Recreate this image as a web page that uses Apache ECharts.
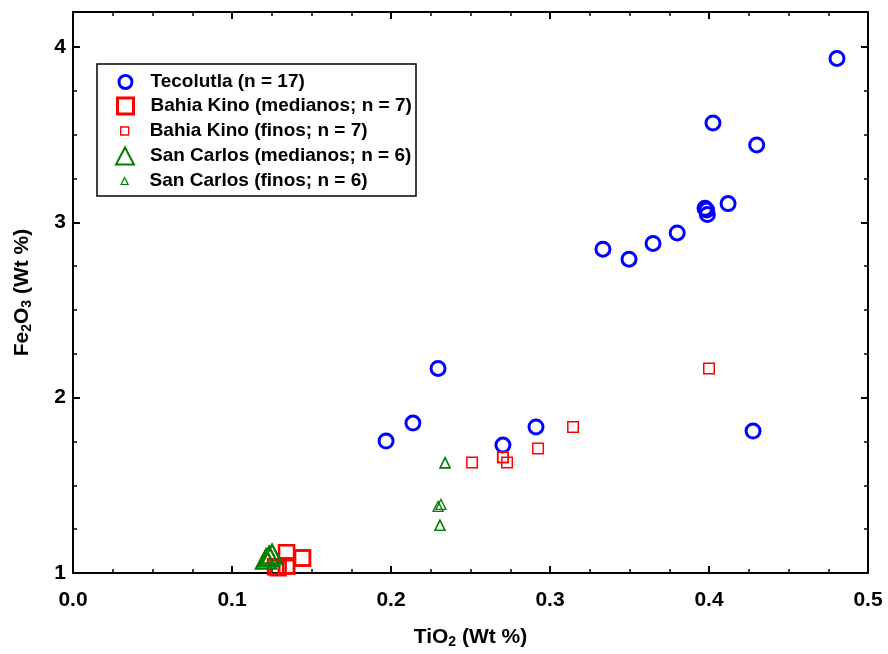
<!DOCTYPE html>
<html><head><meta charset="utf-8">
<script src="https://cdn.jsdelivr.net/npm/echarts@6/dist/echarts.min.js"></script>
<style>html,body{margin:0;padding:0;background:#fff}#c{width:888px;height:654px}</style>
</head><body><div id="c"></div>
<script>
const tecolutlaX = [0.4805, 0.4025, 0.430, 0.412, 0.3975, 0.399, 0.3985, 0.380, 0.3648, 0.3333, 0.3497, 0.2296, 0.2138, 0.1969, 0.2912, 0.2704, 0.4277];
const tecolutlaY = [3.935, 3.567, 3.442, 3.107, 3.08, 3.045, 3.07, 2.94, 2.88, 2.847, 2.79, 2.167, 1.855, 1.753, 1.833, 1.73, 1.81];
const bkMedX = [0.1343, 0.1443, 0.1343, 0.1274, 0.1343, 0.1290, 0.1443];
const bkMedY = [1.116, 1.085, 1.04, 1.035, 1.04, 1.03, 1.085];
const bkFinX = [0.400, 0.3145, 0.2925, 0.2704, 0.273, 0.251, 0.2704];
const bkFinY = [2.167, 1.833, 1.71, 1.66, 1.63, 1.63, 1.66];
const scMedX = [0.1214, 0.1233, 0.1252, 0.1214, 0.1233, 0.1252];
const scMedY = [1.08, 1.096, 1.108, 1.08, 1.096, 1.108];
const scFinX = [0.234, 0.2314, 0.2296, 0.2308, 0.2308, 0.234];
const scFinY = [1.629, 1.391, 1.380, 1.272, 1.272, 1.629];
const xTicks = [0.0, 0.1, 0.2, 0.3, 0.4, 0.5];
const yTicks = [1, 2, 3, 4];

const names = ['Tecolutla (n = 17)', 'Bahia Kino (medianos; n = 7)', 'Bahia Kino (finos; n = 7)', 'San Carlos (medianos; n = 6)', 'San Carlos (finos; n = 6)'];
const zip = (a, b) => a.map((v, i) => [v, b[i]]);
const FONT = 'Liberation Sans, Arial, sans-serif';

const seriesDefs = [
  {name: names[0], data: zip(tecolutlaX, tecolutlaY), symbol: 'circle', size: 14, color: '#0000ff', bw: 3},
  {name: names[1], data: zip(bkMedX, bkMedY), symbol: 'rect', size: 15, color: '#ff0000', bw: 2.5},
  {name: names[2], data: zip(bkFinX, bkFinY), symbol: 'rect', size: 10.5, color: '#ff0000', bw: 1.5},
  {name: names[3], data: zip(scMedX, scMedY), symbol: 'triangle', size: [20, 19], color: '#008000', bw: 2},
  {name: names[4], data: zip(scFinX, scFinY), symbol: 'triangle', size: [10, 10], color: '#008000', bw: 1.3}
];

const series = seriesDefs.map(d => ({
  type: 'scatter', name: d.name, data: d.data, symbol: d.symbol, symbolSize: d.size,
  xAxisIndex: 0, yAxisIndex: 0,
  itemStyle: {color: 'rgba(255,255,255,0)', borderColor: d.color, borderWidth: d.bw, opacity: 1},
  emphasis: {disabled: true}, clip: true
}));

const legendIcon = [{w: 13, h: 13, bw: 3}, {w: 16, h: 16, bw: 3}, {w: 8, h: 8, bw: 1.3}, {w: 18, h: 17, bw: 2}, {w: 7, h: 7, bw: 1.2}];
const legendCY = [82, 106, 131, 156, 181];
const ICON_X = 124, TEXT_X = 149;
const legends = seriesDefs.map((d, i) => ({
  data: [{name: d.name, icon: d.symbol, itemStyle: {color: 'rgba(255,255,255,0)', borderColor: d.color, borderWidth: legendIcon[i].bw}}],
  left: ICON_X - legendIcon[i].w / 2, top: legendCY[i] - 11, itemWidth: legendIcon[i].w, itemHeight: legendIcon[i].h,
  itemGap: 0, padding: 0, selectedMode: false, orient: 'vertical',
  textStyle: {fontFamily: FONT, fontWeight: 'bold', fontSize: 19, lineHeight: 22, color: '#000', padding: [0, 0, 0, TEXT_X - ICON_X - legendIcon[i].w / 2 - 5]}
}));

const axisCommon = {
  axisLine: {show: true, onZero: false, lineStyle: {color: '#000', width: 2}},
  axisTick: {show: true, inside: true, length: 7, lineStyle: {color: '#000', width: 2}},
  minorTick: {show: true, splitNumber: 4, length: 4, lineStyle: {color: '#000', width: 1.5}},
  splitLine: {show: false}
};
const nameRich = {
  b: {fontFamily: FONT, fontWeight: 'bold', fontSize: 21, color: '#000'},
  s: {fontFamily: FONT, fontWeight: 'bold', fontSize: 14, color: '#000', padding: [10, 0, 0, 0]}
};

const option = {
  animation: false,
  backgroundColor: '#fff',
  grid: {left: 73, right: 20, top: 12, bottom: 81, containLabel: false},
  legend: legends,
  xAxis: [
    Object.assign({type: 'value', min: 0, max: 0.5, interval: 0.1, position: 'bottom',
      name: '{b|TiO}{s|2}{b| (Wt %)}', nameLocation: 'middle', nameGap: 52,
      nameTextStyle: {rich: nameRich},
      axisLabel: {margin: 17, fontFamily: FONT, fontWeight: 'bold', fontSize: 21, color: '#000', formatter: v => xTicks.some(t => Math.abs(t - v) < 1e-9) ? v.toFixed(1) : ''}}, axisCommon),
    Object.assign({type: 'value', min: 0, max: 0.5, interval: 0.1, position: 'top', axisLabel: {show: false}}, axisCommon)
  ],
  yAxis: [
    Object.assign({type: 'value', min: 1, max: 4.2, interval: 1, position: 'left',
      name: '{b|Fe}{s|2}{b|O}{s|3}{b| (Wt %)}', nameLocation: 'middle', nameGap: 39, nameRotate: 90,
      nameTextStyle: {rich: nameRich},
      axisLabel: {margin: 7, fontFamily: FONT, fontWeight: 'bold', fontSize: 21, color: '#000', showMaxLabel: false, formatter: v => yTicks.includes(v) ? String(v) : ''}}, axisCommon),
    Object.assign({type: 'value', min: 1, max: 4.2, interval: 1, position: 'right', axisLabel: {show: false}}, axisCommon)
  ],
  graphic: [{type: 'rect', shape: {x: 97, y: 64, width: 319, height: 132}, style: {fill: 'none', stroke: '#000', lineWidth: 1.5}, z: 1}],
  series: series
};
const chart = echarts.init(document.getElementById('c'), null, {renderer: 'canvas'});
chart.setOption(option);
</script></body></html>
